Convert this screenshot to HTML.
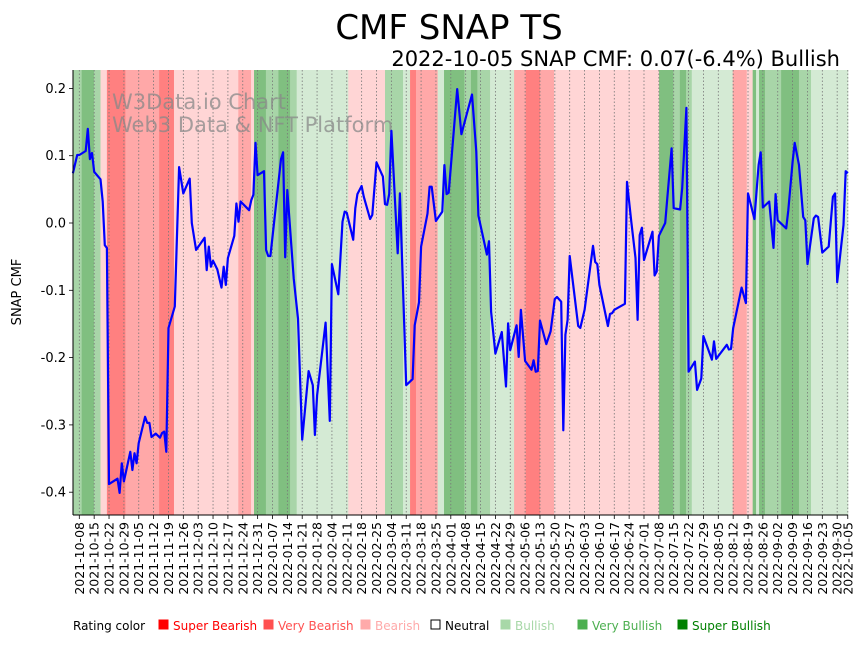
<!DOCTYPE html>
<html><head><meta charset="utf-8"><style>
html,body{margin:0;padding:0;background:#fff;}
svg text{font-family:"DejaVu Sans","Liberation Sans",sans-serif;}
</style></head><body>
<svg id="chart" width="867" height="641" viewBox="0 0 867 641" xmlns="http://www.w3.org/2000/svg">
<text x="449" y="39" font-size="34" text-anchor="middle">CMF SNAP TS</text>
<text x="840" y="66" font-size="21" text-anchor="end">2022-10-05 SNAP CMF: 0.07(-6.4%) Bullish</text>
<g id="bands"></g>
<g id="grid"></g>
<text x="112" y="109" font-size="21" fill="#888" fill-opacity="0.75">W3Data.io Chart</text>
<text x="112" y="132" font-size="21" fill="#888" fill-opacity="0.75">Web3 Data &amp; NFT Platform</text>
<path id="line" fill="none" stroke="#0000ff" stroke-width="2.2" stroke-linejoin="round"></path>
<g id="yaxis"></g>
<g id="xaxis"></g>
<text transform="translate(21,292) rotate(-90)" font-size="13" text-anchor="middle">SNAP CMF</text>
<g id="legend"></g>
</svg>
<script>
const days = [-3,-1,0,3,4,5,6,7,10,11,12,13,14,18,19,20,21,24,25,26,27,28,31,32,33,34,36,38,39,40,41,42,45,47,49,52,53,55,59,60,61,62,63,65,67,68,69,70,73,74,75,76,80,81,82,83,84,87,88,89,90,95,96,97,98,101,103,105,108,110,111,112,116,118,119,122,124,125,126,129,130,131,133,134,137,138,140,143,144,145,146,147,150,151,154,157,158,160,161,164,165,166,168,171,172,173,174,178,180,182,185,187,188,192,193,194,196,199,201,202,203,206,207,208,210,213,214,215,216,217,220,222,224,225,227,228,229,230,231,235,236,238,242,243,244,245,249,250,251,252,257,258,260,262,263,264,265,266,270,271,272,273,276,277,279,280,283,284,286,287,290,291,293,294,298,299,300,305,306,307,308,312,314,315,318,320,321,322,325,327,328,329,333,334,336,337,339,341,342,343,346,347,348,350,353,355,356,357,360,361,362];
const cmfValues = [0.074,0.101,0.101,0.107,0.140,0.095,0.104,0.076,0.065,0.032,-0.033,-0.037,-0.388,-0.380,-0.401,-0.357,-0.384,-0.340,-0.367,-0.342,-0.357,-0.327,-0.288,-0.297,-0.297,-0.318,-0.313,-0.319,-0.312,-0.310,-0.340,-0.156,-0.124,0.083,0.044,0.066,0.000,-0.040,-0.022,-0.070,-0.035,-0.065,-0.056,-0.069,-0.096,-0.065,-0.092,-0.052,-0.019,0.029,0.002,0.032,0.019,0.034,0.042,0.119,0.071,0.077,-0.040,-0.049,-0.049,0.095,0.105,-0.051,0.049,-0.082,-0.142,-0.322,-0.220,-0.241,-0.315,-0.256,-0.148,-0.294,-0.061,-0.106,0.002,0.017,0.015,-0.025,0.022,0.043,0.055,0.039,0.006,0.012,0.090,0.069,0.028,0.027,0.043,0.137,-0.045,0.044,-0.241,-0.232,-0.152,-0.118,-0.035,0.014,0.054,0.054,0.003,0.017,0.086,0.043,0.045,0.199,0.132,0.156,0.191,0.106,0.011,-0.047,-0.027,-0.132,-0.194,-0.162,-0.243,-0.149,-0.189,-0.152,-0.199,-0.129,-0.205,-0.218,-0.204,-0.221,-0.220,-0.145,-0.180,-0.161,-0.113,-0.110,-0.117,-0.308,-0.166,-0.144,-0.049,-0.153,-0.156,-0.129,-0.034,-0.058,-0.061,-0.092,-0.153,-0.135,-0.134,-0.129,-0.120,0.061,0.002,-0.052,-0.144,-0.018,-0.007,-0.055,-0.013,-0.078,-0.072,-0.019,0.000,0.037,0.111,0.022,0.020,0.052,0.171,-0.221,-0.206,-0.248,-0.231,-0.168,-0.203,-0.176,-0.202,-0.181,-0.188,-0.187,-0.156,-0.096,-0.119,0.044,0.006,0.086,0.105,0.023,0.032,-0.037,0.043,0.004,-0.008,0.019,0.091,0.119,0.086,0.009,0.004,-0.061,0.007,0.011,0.009,-0.044,-0.035,0.039,0.044,-0.088,-0.003,0.077,0.074];
const bandStarts = [-3,1.1,6.9,10,13,21.7,37.6,44.6,74.9,80.9,82.3,87.9,93.8,99.3,102.4,126.7,144,152.5,155.8,158.6,168.8,171.8,181.4,184.5,187.5,193.5,204.8,210.3,217,223.6,273.1,279.8,282.9,285.8,288.5,307.8,314.4,317.2,318.8,320.2,323,330.6,339,344.7];
const bandLevels = [2,3,2,-1,-3,-2,-3,-1,-2,-1,3,2,3,2,1,-1,2,1,-3,-2,1,3,2,3,2,1,-2,-3,-2,-1,3,2,3,2,1,-2,-1,3,1,3,2,3,2,1];
const yTicks = [0.2,0.1,0.0,-0.1,-0.2,-0.3,-0.4];
const tickDays = [];
for (let k=0;k<=51;k++) tickDays.push(k*7);
tickDays.push(362);

const L=73,R=848,T=70,B=515, D0=-2.97, D1=362.1;
const xS = d => L + (d-D0)/(D1-D0)*(R-L);
const yS = v => 223 - v*673;
const NS="http://www.w3.org/2000/svg";
const colors = {"-3":"#ff8080","-2":"#ffa8a8","-1":"#ffd5d5","1":"#d4ead4","2":"#a8d5a8","3":"#80bf80"};
const mk=(t,a,p)=>{const e=document.createElementNS(NS,t);for(const k in a)e.setAttribute(k,a[k]);p.appendChild(e);return e;};

const bg=document.getElementById('bands');
for(let i=0;i<bandStarts.length;i++){
  const x0=xS(Math.max(bandStarts[i],D0)), x1=xS(i+1<bandStarts.length?bandStarts[i+1]:D1);
  const r=mk('rect',{x:x0,y:T,width:x1-x0+0.3,height:B-T,fill:colors[bandLevels[i]]},bg);
  
  
}
const grid=document.getElementById('grid'), xa=document.getElementById('xaxis');
const base=new Date(Date.UTC(2021,9,8));
tickDays.forEach(d=>{
  const x=xS(d);
  const g=mk('line',{x1:x,x2:x,y1:T,y2:B,stroke:'#777','stroke-width':0.8,'stroke-dasharray':'1.5,2'},grid);
  
  
  mk('line',{x1:x,x2:x,y1:B,y2:B+4,stroke:'#000','stroke-width':0.8},xa);
  const dt=new Date(base.getTime()+d*86400000);
  const s=dt.toISOString().slice(0,10);
  const t=mk('text',{transform:`translate(${x+4.5},${B+7}) rotate(-90)`,'font-size':12.5,'text-anchor':'end'},xa);
  t.textContent=s;
  
  
});
mk('line',{x1:L,x2:R,y1:B,y2:B,stroke:'#000','stroke-width':1},xa);
const ya=document.getElementById('yaxis');
mk('line',{x1:L,x2:L,y1:T,y2:B,stroke:'#000','stroke-width':1},ya);
yTicks.forEach(v=>{
  const y=yS(v);
  mk('line',{x1:L-4,x2:L,y1:y,y2:y,stroke:'#000','stroke-width':0.8},ya);
  const t=mk('text',{x:L-7,y:y+4.5,'font-size':13,'text-anchor':'end'},ya);
  t.textContent=v.toFixed(1);
  
  
});
document.getElementById('line').setAttribute('d',days.map((d,i)=>(i?'L':'M')+xS(d).toFixed(1)+','+yS(cmfValues[i]).toFixed(1)).join(''));

const lg=document.getElementById('legend');
const lt=mk('text',{x:73,y:630,'font-size':12},lg); lt.textContent='Rating color';
const items=[["Super Bearish","#ff0000",158],["Very Bearish","#ff5050",263],["Bearish","#ffaaaa",360],["Neutral","none",430],["Bullish","#a8d8a8",500],["Very Bullish","#4caf50",577],["Super Bullish","#008000",677]];
items.forEach(([n,c,x])=>{
  const g=mk('g',{},lg);
  
  
  mk('rect',{x:x+1,y:620,width:9,height:9,fill:c==='none'?'#fff':c,stroke:c==='none'?'#000':c,'stroke-width':1},g);
  const t=mk('text',{x:x+15,y:630,'font-size':12,fill:c==='none'?'#000':c},g); t.textContent=n;
});
</script>
</body></html>
